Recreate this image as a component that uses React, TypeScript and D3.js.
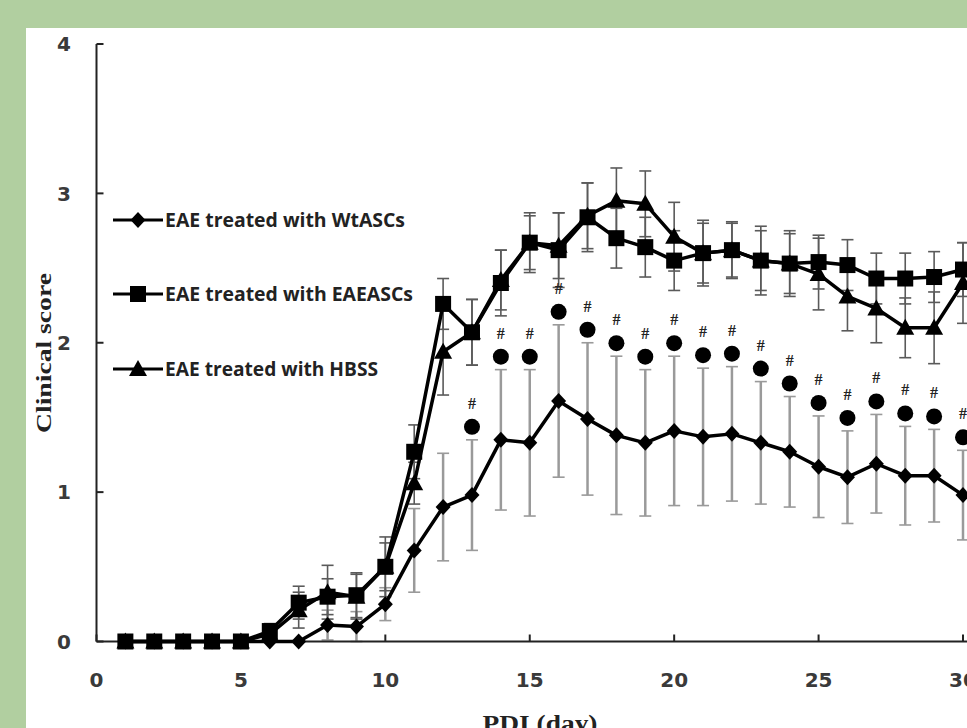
import React from "react";
import * as d3 from "d3";

const days = [1, 2, 3, 4, 5, 6, 7, 8, 9, 10, 11, 12, 13, 14, 15, 16, 17, 18, 19, 20, 21, 22, 23, 24, 25, 26, 27, 28, 29, 30];
const wtMean = [0, 0, 0, 0, 0, 0, 0, 0.11, 0.1, 0.25, 0.61, 0.9, 0.98, 1.35, 1.33, 1.61, 1.49, 1.38, 1.33, 1.41, 1.37, 1.39, 1.33, 1.27, 1.17, 1.1, 1.19, 1.11, 1.11, 0.98];
const wtSd = [0, 0, 0, 0, 0, 0, 0, 0.1, 0.1, 0.11, 0.28, 0.36, 0.37, 0.47, 0.49, 0.51, 0.51, 0.53, 0.49, 0.5, 0.46, 0.45, 0.41, 0.37, 0.34, 0.31, 0.33, 0.33, 0.31, 0.3];
const eaeMean = [0, 0, 0, 0, 0, 0.07, 0.26, 0.3, 0.31, 0.5, 1.27, 2.26, 2.07, 2.4, 2.67, 2.62, 2.84, 2.7, 2.64, 2.55, 2.6, 2.62, 2.55, 2.53, 2.54, 2.52, 2.43, 2.43, 2.44, 2.49];
const eaeSd = [0, 0, 0, 0, 0, 0.05, 0.11, 0.12, 0.15, 0.2, 0.18, 0.17, 0.22, 0.22, 0.2, 0.25, 0.23, 0.2, 0.2, 0.2, 0.2, 0.18, 0.2, 0.2, 0.18, 0.17, 0.17, 0.17, 0.17, 0.18];
const hbssMean = [0, 0, 0, 0, 0, 0.05, 0.21, 0.33, 0.3, 0.5, 1.06, 1.94, 2.07, 2.42, 2.67, 2.65, 2.85, 2.95, 2.93, 2.71, 2.6, 2.62, 2.55, 2.53, 2.46, 2.31, 2.23, 2.1, 2.1, 2.4];
const hbssSd = [0, 0, 0, 0, 0, 0.05, 0.12, 0.18, 0.15, 0.16, 0.14, 0.29, 0.22, 0.2, 0.18, 0.22, 0.22, 0.22, 0.22, 0.23, 0.22, 0.19, 0.23, 0.22, 0.24, 0.23, 0.23, 0.2, 0.24, 0.27];
const sigDays = [13, 14, 15, 16, 17, 18, 19, 20, 21, 22, 23, 24, 25, 26, 27, 28, 29, 30];
const xTicks = [0, 5, 10, 15, 20, 25, 30];
const yTicks = [0, 1, 2, 3, 4];
const legendLabels = ["EAE treated with WtASCs", "EAE treated with EAEASCs", "EAE treated with HBSS"];

const W = 967;
const H = 728;

function marker(kind: string, cx: number, cy: number, key: string) {
  if (kind === "square") {
    return <rect key={key} x={cx - 8} y={cy - 8} width={16} height={16} fill="#000" />;
  }
  if (kind === "triangle") {
    return <path key={key} d={`M${cx},${cy - 9}L${cx + 9},${cy + 7}L${cx - 9},${cy + 7}Z`} fill="#000" />;
  }
  return <path key={key} d={`M${cx},${cy - 8}L${cx + 7.5},${cy}L${cx},${cy + 8}L${cx - 7.5},${cy}Z`} fill="#000" />;
}

export default function App() {
  const x = d3.scaleLinear().domain([0, 30]).range([96.5, 963]);
  const y = d3.scaleLinear().domain([0, 4]).range([641.5, 44]);
  const line = d3.line<number>().x((_, i) => x(days[i])).y((v) => y(v));

  const series = [
    { mean: wtMean, sd: wtSd, kind: "diamond", barColor: "#9a9a9a", barW: 2.5, cap: 6 },
    { mean: eaeMean, sd: eaeSd, kind: "square", barColor: "#5a5a5a", barW: 1.6, cap: 6 },
    { mean: hbssMean, sd: hbssSd, kind: "triangle", barColor: "#5a5a5a", barW: 1.6, cap: 6 },
  ];

  return (
    <svg width={W} height={H} style={{ position: "absolute", left: 0, top: 0 }}>
      <rect x={0} y={0} width={W} height={H} fill="#b1cfa0" />
      <rect x={26} y={28} width={W - 26} height={H - 28} fill="#ffffff" />

      {/* error bars */}
      {series.map((s, si) => (
        <g key={"eb" + si}>
          {days.map((d, i) => {
            if (s.sd[i] <= 0) return null;
            const cx = x(d);
            const y1 = y(s.mean[i] + s.sd[i]);
            const y2 = y(s.mean[i] - s.sd[i]);
            return (
              <g key={i} stroke={s.barColor} strokeWidth={s.barW}>
                <line x1={cx} x2={cx} y1={y1} y2={y2} />
                <line x1={cx - s.cap} x2={cx + s.cap} y1={y1} y2={y1} strokeWidth={1.6} />
                <line x1={cx - s.cap} x2={cx + s.cap} y1={y2} y2={y2} strokeWidth={1.6} />
              </g>
            );
          })}
        </g>
      ))}

      {/* axes */}
      <g stroke="#222" strokeWidth={2} fill="none">
        <line x1={x(0)} x2={x(0)} y1={y(4)} y2={y(0)} />
        <line x1={x(0)} x2={W} y1={y(0)} y2={y(0)} />
        {yTicks.map((t) => (
          <line key={"yt" + t} x1={x(0)} x2={x(0) + 7} y1={y(t)} y2={y(t)} />
        ))}
        {xTicks.map((t) => (
          <line key={"xt" + t} x1={x(t)} x2={x(t)} y1={y(0)} y2={y(0) - 7} />
        ))}
      </g>
      <g fontFamily="DejaVu Sans" fontWeight="bold" fontSize={20} fill="#3a3a3a">
        {yTicks.map((t) => (
          <text key={"yl" + t} x={71} y={y(t)} dy="0.36em" textAnchor="end">{t}</text>
        ))}
        {xTicks.map((t) => (
          <text key={"xl" + t} x={x(t)} y={687} textAnchor="middle">{t}</text>
        ))}
      </g>

      {/* lines */}
      {series.map((s, si) => (
        <path key={"ln" + si} d={line(s.mean) || ""} fill="none" stroke="#000" strokeWidth={3.5} strokeLinejoin="round" />
      ))}
      {series.map((s, si) => (
        <g key={"mk" + si}>{days.map((d, i) => marker(s.kind, x(d), y(s.mean[i]), si + "-" + i))}</g>
      ))}

      {/* significance markers */}
      {sigDays.map((d) => {
        const i = days.indexOf(d);
        const top = y(wtMean[i] + wtSd[i]);
        return (
          <g key={"sig" + d}>
            <circle cx={x(d)} cy={top - 13} r={8} fill="#000" />
            <text x={x(d)} y={top - 31} textAnchor="middle" fontFamily="Liberation Serif" fontWeight="bold" fontSize={16} fill="#222">#</text>
          </g>
        );
      })}

      {/* legend */}
      {legendLabels.map((lab, i) => {
        const ly = [220, 294, 369][i];
        const kinds = ["diamond", "square", "triangle"];
        const widths = [240, 248, 213];
        return (
          <g key={"lg" + i}>
            <line x1={113} x2={163} y1={ly} y2={ly} stroke="#000" strokeWidth={3} />
            {marker(kinds[i], 138, ly, "lm" + i)}
            <text x={165} y={ly + 7} fontFamily="Open Sans" fontWeight={700} fontSize={19} fill="#222" textLength={widths[i]} lengthAdjust="spacingAndGlyphs">{lab}</text>
          </g>
        );
      })}

      {/* axis titles */}
      <text transform="translate(51,353) rotate(-90)" textAnchor="middle" fontFamily="Liberation Serif" fontWeight="bold" fontSize={21} fill="#222" textLength={160} lengthAdjust="spacingAndGlyphs">Clinical score</text>
      <text x={540} y={731} textAnchor="middle" fontFamily="Liberation Serif" fontWeight="bold" fontSize={23} fill="#222" textLength={115} lengthAdjust="spacingAndGlyphs">PDI (day)</text>
    </svg>
  );
}
